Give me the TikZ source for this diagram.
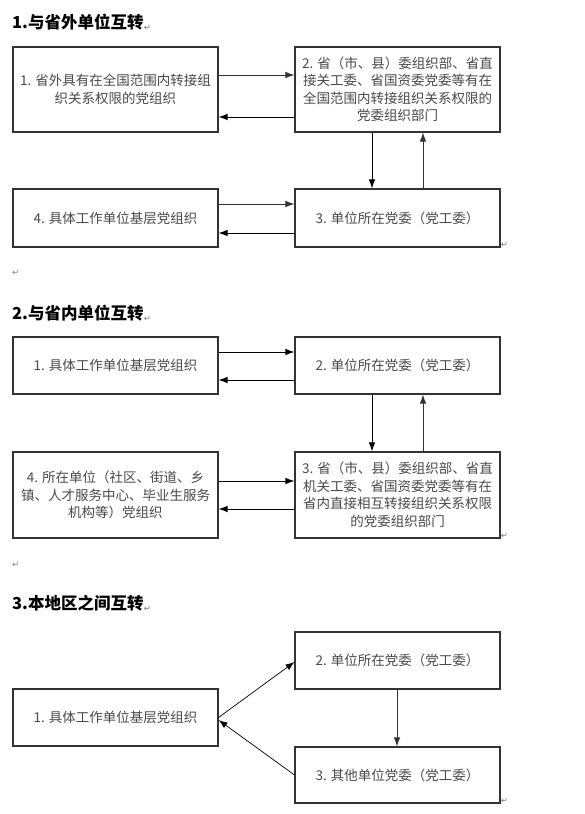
\documentclass[tikz,border=0pt]{standalone}
\usepackage{fontspec}
\setmainfont{Noto Sans CJK SC}
\newfontfamily\symf{DejaVu Sans}
\usetikzlibrary{arrows.meta}
\definecolor{txt}{HTML}{4A4A4A}
\definecolor{edge}{HTML}{333333}
\definecolor{pmark}{HTML}{7A7A7A}
\tikzset{
  box/.style={draw=edge, line width=1.1pt, inner sep=0pt, text=txt, align=center,
    font=\fontsize{13.5}{17.5}\selectfont},
  arr/.style={draw=black, line width=0.9pt, -{Latex[length=9pt,width=6.5pt]}},
  garr/.style={arr, draw=edge},
  ttl/.style={anchor=west, inner sep=0pt, font=\fontsize{16.5}{20}\selectfont\bfseries},
  pm/.style={inner sep=0pt, text=pmark, font=\symf\fontsize{8.5}{9}\selectfont}
}
\begin{document}
\begin{tikzpicture}[x=1pt,y=-1pt]
\useasboundingbox[fill=white] (0,0) rectangle (584,814);

% ---------- Section 1 ----------
\node[ttl] (t1) at (12,22) {1.与省外单位互转};
\node[pm, anchor=south west] (t1p) at (t1.south east) {↵};
\node[box, minimum width=205pt, minimum height=85pt] (a1) at (115.5,89.5)
  {1. 省外具有在全国范围内转接组\\织关系权限的党组织};
\node[box, minimum width=205pt, minimum height=85pt] (a2) at (397.5,89.5)
  {2. 省（市、县）委组织部、省直\\接关工委、省国资委党委等有在\\全国范围内转接组织关系权限的\\党委组织部门};
\node[box, minimum width=205pt, minimum height=58pt] (a3) at (397.5,218)
  {3. 单位所在党委（党工委）};
\node[box, minimum width=205pt, minimum height=58pt] (a4) at (115.5,218)
  {4. 具体工作单位基层党组织};
\node[pm, anchor=south west] (a3p) at (a3.south east) {↵};
\node[pm, anchor=west] (p1) at (12,273) {↵};

\draw[garr] (a1.east |- 0,75) -- (a2.west |- 0,75);
\draw[arr] (a2.west |- 0,117) -- (a1.east |- 0,117);
\draw[arr] (a2.south -| 372,0) -- (a3.north -| 372,0);
\draw[garr] (a3.north -| 423,0) -- (a2.south -| 423,0);
\draw[garr] (a4.east |- 0,204) -- (a3.west |- 0,204);
\draw[arr] (a3.west |- 0,233) -- (a4.east |- 0,233);

% ---------- Section 2 ----------
\node[ttl] (t2) at (12,313) {2.与省内单位互转};
\node[pm, anchor=south west] (t2p) at (t2.south east) {↵};
\node[box, minimum width=205pt, minimum height=57pt] (b1) at (115.5,365.5)
  {1. 具体工作单位基层党组织};
\node[box, minimum width=205pt, minimum height=57pt] (b2) at (397.5,365.5)
  {2. 单位所在党委（党工委）};
\node[box, minimum width=205pt, minimum height=86pt] (b3) at (397.5,495)
  {3. 省（市、县）委组织部、省直\\机关工委、省国资委党委等有在\\省内直接相互转接组织关系权限\\的党委组织部门};
\node[box, minimum width=205pt, minimum height=86pt] (b4) at (115.5,495)
  {4. 所在单位（社区、街道、乡\\镇、人才服务中心、毕业生服务\\机构等）党组织};
\node[pm, anchor=south west] (b3p) at (b3.south east) {↵};
\node[pm, anchor=west] (p2) at (12,565) {↵};

\draw[arr] (b1.east |- 0,352) -- (b2.west |- 0,352);
\draw[arr] (b2.west |- 0,380) -- (b1.east |- 0,380);
\draw[arr] (b2.south -| 372,0) -- (b3.north -| 372,0);
\draw[garr] (b3.north -| 423,0) -- (b2.south -| 423,0);
\draw[arr] (b4.east |- 0,481) -- (b3.west |- 0,481);
\draw[arr] (b3.west |- 0,509) -- (b4.east |- 0,509);

% ---------- Section 3 ----------
\node[ttl] (t3) at (12,603) {3.本地区之间互转};
\node[pm, anchor=south west] (t3p) at (t3.south east) {↵};
\node[box, minimum width=205pt, minimum height=57pt] (c2) at (397.5,660.5)
  {2. 单位所在党委（党工委）};
\node[box, minimum width=205pt, minimum height=57pt] (c1) at (115.5,717.5)
  {1. 具体工作单位基层党组织};
\node[box, minimum width=205pt, minimum height=56pt] (c3) at (397.5,775)
  {3. 其他单位党委（党工委）};
\node[pm, anchor=south west] (c3p) at (c3.south east) {↵};

\draw[arr, line width=0.7pt] (c1.east) -- (c2.west |- 0,662);
\draw[arr, line width=0.7pt] (c3.west |- 0,775) -- (c1.east |- 0,720);
\draw[garr] (c2.south -| 397,0) -- (c3.north -| 397,0);
\end{tikzpicture}
\end{document}
